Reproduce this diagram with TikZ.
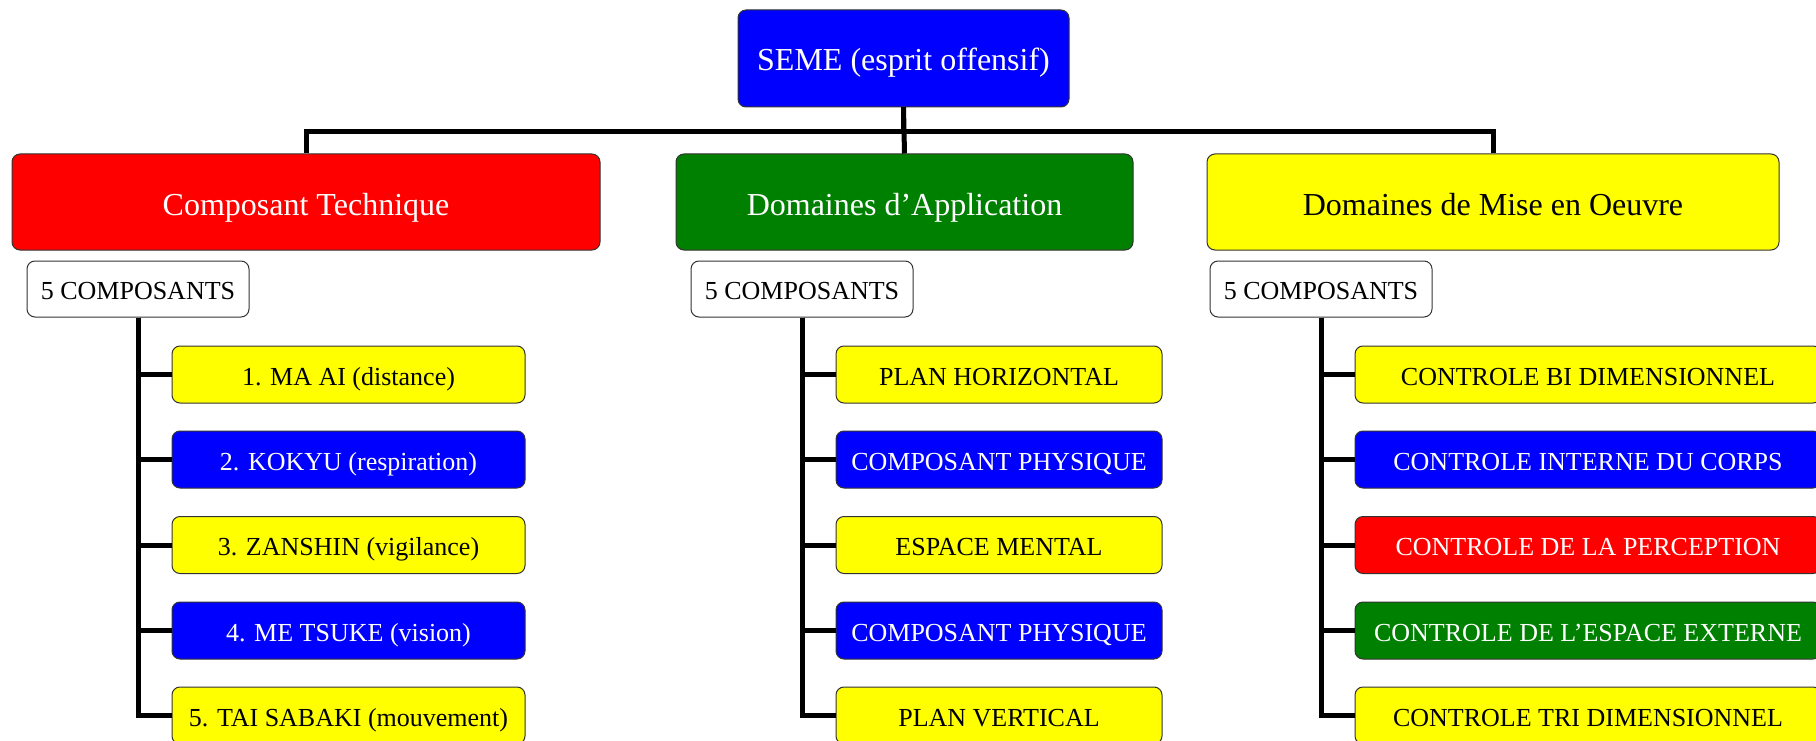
\documentclass[tikz,border=0pt]{standalone}
\usepackage{fontspec}
\setmainfont{Liberation Serif}
\definecolor{cblue}{RGB}{0,0,255}
\definecolor{cred}{RGB}{255,0,0}
\definecolor{cgreen}{RGB}{0,128,0}
\definecolor{cyellow}{RGB}{255,255,0}
\tikzset{
  box/.style={draw=black!80, line width=1pt, rounded corners=8pt, inner sep=0pt, align=center, text depth=0pt},
  big/.style={box, font=\fontsize{32}{38}\selectfont, minimum height=96pt, text height=26pt},
  small/.style={box, font=\fontsize{26}{31}\selectfont, minimum height=57pt, text height=21pt},
  onblue/.style={fill=cblue, text=white},
  onred/.style={fill=cred, text=white},
  ongreen/.style={fill=cgreen, text=white},
  onyellow/.style={fill=cyellow, text=black},
  onwhite/.style={fill=white, text=black},
  conn/.style={line width=5pt, black},
  leftitem/.style={small, minimum width=353pt},
  miditem/.style={small, minimum width=326pt},
  rightitem/.style={small, minimum width=466pt},
  compbox/.style={small, onwhite, minimum width=222pt, minimum height=56pt, text height=20pt}
}
\begin{document}
\begin{tikzpicture}[x=1pt,y=-1pt]
\useasboundingbox (0,0) rectangle (1816,741);
\clip (0,0) rectangle (1816,741);
\fill[white] (0,0) rectangle (1816,741);

% top
\node[big, onblue, minimum width=331pt, minimum height=97pt, text height=25pt] (seme) at (903.5,58.5) {SEME (esprit offensif)};

% level 1
\node[big, onred, minimum width=588pt] (tech) at (306,202) {Composant Technique};
\node[big, ongreen, minimum width=457pt] (appl) at (904.5,202) {Domaines d’Application};
\node[big, onyellow, minimum width=572pt] (mise) at (1493,202) {Domaines de Mise en Oeuvre};

% 5 composants
\node[compbox] (c1) at (138,289) {5 COMPOSANTS};
\node[compbox] (c2) at (802,289) {5 COMPOSANTS};
\node[compbox] (c3) at (1321,289) {5 COMPOSANTS};

% left items
\node[leftitem, onyellow] (l1) at (348.5,374.5) {1. MA AI (distance)};
\node[leftitem, onblue]   (l2) at (348.5,459.5) {2. KOKYU (respiration)};
\node[leftitem, onyellow] (l3) at (348.5,545.0) {3. ZANSHIN (vigilance)};
\node[leftitem, onblue]   (l4) at (348.5,630.5) {4. ME TSUKE (vision)};
\node[leftitem, onyellow] (l5) at (348.5,715.5) {5. TAI SABAKI (mouvement)};

% middle items
\node[miditem, onyellow] (m1) at (999,374.5) {PLAN HORIZONTAL};
\node[miditem, onblue]   (m2) at (999,459.5) {COMPOSANT PHYSIQUE};
\node[miditem, onyellow] (m3) at (999,545.0) {ESPACE MENTAL};
\node[miditem, onblue]   (m4) at (999,630.5) {COMPOSANT PHYSIQUE};
\node[miditem, onyellow] (m5) at (999,715.5) {PLAN VERTICAL};

% right items
\node[rightitem, onyellow] (r1) at (1588,374.5) {CONTROLE BI DIMENSIONNEL};
\node[rightitem, onblue]   (r2) at (1588,459.5) {CONTROLE INTERNE DU CORPS};
\node[rightitem, onred]    (r3) at (1588,545.0) {CONTROLE DE LA PERCEPTION};
\node[rightitem, ongreen]  (r4) at (1588,630.5) {CONTROLE DE L’ESPACE EXTERNE};
\node[rightitem, onyellow] (r5) at (1588,715.5) {CONTROLE TRI DIMENSIONNEL};

% connectors top
\draw[conn] (seme.south) -- ++(0,24) -| (tech.north);
\draw[conn] (seme.south) -- (appl.north);
\draw[conn] (seme.south) -- ++(0,24) -| (mise.north);

% connectors items
\foreach \i in {1,...,5} {
  \draw[conn] (c1.south) |- (l\i.west);
  \draw[conn] (c2.south) |- (m\i.west);
  \draw[conn] (c3.south) |- (r\i.west);
}
\end{tikzpicture}
\end{document}
